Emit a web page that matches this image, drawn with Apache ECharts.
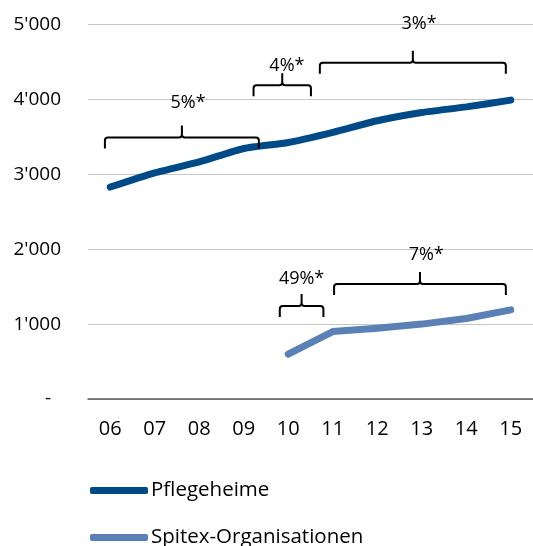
<!DOCTYPE html>
<html>
<head>
<meta charset="utf-8">
<script src="https://cdn.jsdelivr.net/npm/echarts@6/dist/echarts.min.js"></script>
<style>
  html, body { margin: 0; padding: 0; background: #fff; }
  #chart { width: 533px; height: 546px; }
</style>
</head>
<body>
<div id="chart"></div>
<script>
var years = ['06', '07', '08', '09', '10', '11', '12', '13', '14', '15'];
var pflegeheime = [2830, 3020, 3165, 3345, 3425, 3560, 3715, 3825, 3900, 3990];
var spitex = [null, null, null, null, 600, 900, 945, 1000, 1075, 1190];

// growth brackets (x in category index, y in data units)
var bracketText = ['5%*', '4%*', '3%*', '49%*', '7%*'];
var bracketFrom = [-0.12, 3.22, 4.71, 3.81, 5.03];
var bracketTo = [3.34, 4.51, 8.89, 4.79, 8.89];
var bracketLevel = [3490, 4190, 4490, 1240, 1535];
var labelX = [1.75, 3.97, 6.94, 4.30, 7.10];
var labelY = [3950, 4450, 5010, 1600, 1930];

var chart = echarts.init(document.getElementById('chart'));

function fmt (v) {
  if (v === 0) return '-  ';
  return String(v).replace(/\B(?=(\d{3})+(?!\d))/g, "'");
}

function renderBracket (params, api) {
  var i = params.dataIndex;
  var a = api.coord([0, bracketLevel[i]]);
  var b = api.coord([1, bracketLevel[i]]);
  var step = b[0] - a[0];
  var l = a[0] + bracketFrom[i] * step;
  var r = a[0] + bracketTo[i] * step;
  var y = a[1];
  var m = (l + r) / 2;
  var d = 11, up = 12, c = 3;
  var path = 'M' + l + ',' + (y + d) + ' L' + l + ',' + (y + c) +
    ' Q' + l + ',' + y + ' ' + (l + c) + ',' + y +
    ' L' + (m - c) + ',' + y + ' Q' + m + ',' + y + ' ' + m + ',' + (y - c) +
    ' L' + m + ',' + (y - up) +
    ' M' + m + ',' + (y - c) + ' Q' + m + ',' + y + ' ' + (m + c) + ',' + y +
    ' L' + (r - c) + ',' + y + ' Q' + r + ',' + y + ' ' + r + ',' + (y + c) +
    ' L' + r + ',' + (y + d);
  var t = api.coord([0, labelY[i]]);
  return {
    type: 'group',
    children: [
      {
        type: 'path',
        shape: { pathData: path },
        style: { stroke: '#000', lineWidth: 2, fill: null }
      },
      {
        type: 'text',
        style: {
          text: bracketText[i],
          x: a[0] + labelX[i] * step,
          y: t[1],
          align: 'center',
          verticalAlign: 'middle',
          font: '18px "Open Sans"',
          fill: '#000'
        }
      }
    ]
  };
}

var legendBase = {
  left: 90,
  padding: 0,
  itemWidth: 58,
  itemHeight: 7,
  icon: 'roundRect',
  textStyle: { fontSize: 20.5, color: '#000', padding: [0, 0, 0, -2] }
};

var option = {
  animation: false,
  textStyle: { fontFamily: 'Open Sans' },
  grid: { left: 88, right: 0, top: 24.5, bottom: 147 },
  legend: [
    Object.assign({}, legendBase, { top: 480, data: ['Pflegeheime'] }),
    Object.assign({}, legendBase, { top: 527, data: ['Spitex-Organisationen'] })
  ],
  xAxis: {
    type: 'category',
    data: years,
    boundaryGap: true,
    axisLine: { lineStyle: { color: '#595959', width: 1.5 } },
    axisTick: { show: false },
    axisLabel: { fontSize: 20, color: '#000', margin: 20 }
  },
  yAxis: {
    type: 'value',
    min: 0,
    max: 5000,
    interval: 1000,
    axisLine: { show: false },
    axisTick: { show: false },
    splitLine: { lineStyle: { color: '#c6c6c6', width: 1 } },
    axisLabel: { fontSize: 19, color: '#000', margin: 27, formatter: fmt }
  },
  series: [
    {
      name: 'Pflegeheime',
      type: 'line',
      data: pflegeheime,
      smooth: 0.2,
      showSymbol: false,
      itemStyle: { color: '#004b87' },
      lineStyle: { color: '#004b87', width: 7, cap: 'round' }
    },
    {
      name: 'Spitex-Organisationen',
      type: 'line',
      data: spitex,
      smooth: false,
      showSymbol: false,
      itemStyle: { color: '#5a80b5' },
      lineStyle: { color: '#5a80b5', width: 7, cap: 'round', join: 'round' }
    },
    {
      type: 'custom',
      renderItem: renderBracket,
      clip: false,
      silent: true,
      data: bracketLevel.map(function (v, i) { return [bracketFrom[i], v]; }),
      z: 5
    }
  ]
};

chart.setOption(option);
</script>
</body>
</html>
